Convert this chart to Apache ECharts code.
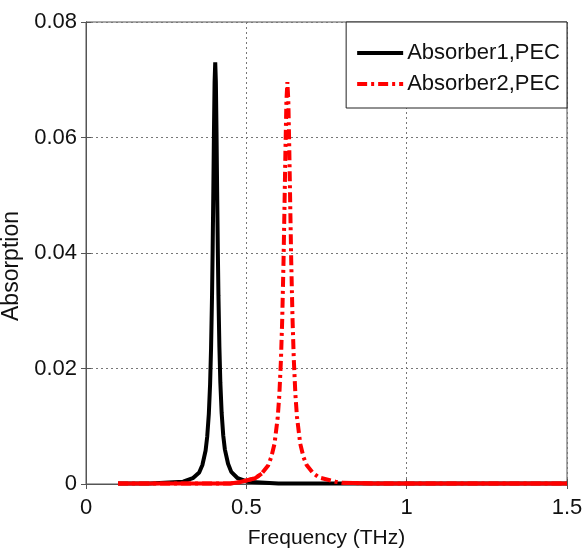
<!DOCTYPE html>
<html>
<head>
<meta charset="utf-8">
<script src="https://cdn.jsdelivr.net/npm/echarts@6/dist/echarts.min.js"></script>
<style>
html,body{margin:0;padding:0;background:#fff;}
#chart{width:583px;height:551px;}
</style>
</head>
<body>
<div id="chart"></div>
<script>
// Data
var seriesNames = ['Absorber1,PEC', 'Absorber2,PEC'];
var xTicks = [0, 0.5, 1, 1.5];
var yTicks = [0, 0.02, 0.04, 0.06, 0.08];

var freq1 = [0.1, 0.2, 0.303, 0.333, 0.353, 0.363, 0.373, 0.378, 0.383, 0.387, 0.390, 0.393, 0.395, 0.397, 0.399, 0.401, 0.403,
             0.405, 0.407, 0.409, 0.411, 0.413, 0.416, 0.419, 0.423, 0.428, 0.433, 0.443, 0.453, 0.473, 0.503, 0.6, 0.7, 0.8, 1.0, 1.2, 1.5];
var abs1  = [0.0001, 0.0001, 0.0004, 0.0010, 0.0020, 0.0033, 0.0058, 0.0082, 0.0121, 0.0173, 0.0235, 0.0325, 0.0406, 0.0504, 0.0610, 0.0696, 0.0730,
             0.0696, 0.0610, 0.0506, 0.0408, 0.0327, 0.0237, 0.0175, 0.0123, 0.0084, 0.0060, 0.0035, 0.0021, 0.0010, 0.0004, 0.0001, 0.0001, 0.0001, 0.0001, 0.0001, 0.0001];

var freq2 = [0.1, 0.3, 0.45, 0.478, 0.528, 0.548, 0.568, 0.578, 0.588, 0.598, 0.603, 0.608, 0.612, 0.616, 0.619, 0.622, 0.625, 0.628,
             0.631, 0.634, 0.637, 0.640, 0.644, 0.648, 0.653, 0.658, 0.668, 0.678, 0.688, 0.708, 0.728, 0.778, 0.8, 0.9, 1.1, 1.3, 1.5];
var abs2  = [0.0001, 0.0001, 0.0001, 0.0003, 0.0010, 0.0018, 0.0032, 0.0047, 0.0070, 0.0116, 0.0155, 0.0216, 0.0287, 0.0386, 0.0480, 0.0580, 0.0663, 0.0696,
             0.0663, 0.0580, 0.0480, 0.0386, 0.0287, 0.0216, 0.0155, 0.0116, 0.0070, 0.0047, 0.0033, 0.0019, 0.0011, 0.0004, 0.0002, 0.0001, 0.0001, 0.0001, 0.0001];

function pairs(xs, ys) { return xs.map(function (x, i) { return [x, ys[i]]; }); }
var data1 = pairs(freq1, abs1);
var data2 = pairs(freq2, abs2);
// red baseline portions (drawn solid in the reference)
var data2Base = data2.map(function (p) { return (p[0] <= 0.55 || p[0] >= 0.8) ? p : [p[0], null]; });

var FONT = "'Liberation Sans', Arial, Helvetica, sans-serif";
var axisCol = '#555';

var chart = echarts.init(document.getElementById('chart'), null, {renderer: 'canvas'});
chart.setOption({
  animation: false,
  backgroundColor: '#fff',
  grid: {left: 86, right: 16, top: 22, bottom: 67, containLabel: false, outerBoundsMode: 'none',
         show: true, borderColor: axisCol, borderWidth: 1, backgroundColor: 'transparent'},
  legend: {
    data: seriesNames,
    orient: 'vertical',
    right: 16, top: 22,
    backgroundColor: '#fff',
    borderColor: '#222', borderWidth: 1,
    padding: [18, 7, 11, 9],
    itemWidth: 46, itemHeight: 14, itemGap: 5,
    itemStyle: {opacity: 0},
    lineStyle: {width: 4},
    textStyle: {fontFamily: FONT, fontSize: 22, color: '#111', lineHeight: 26, padding: [0, 0, 0, -1]}
  },
  xAxis: [{
    type: 'value', min: 0, max: 1.5, interval: 0.5,
    name: 'Frequency (THz)', nameLocation: 'middle', nameGap: 44,
    nameTextStyle: {fontFamily: FONT, fontSize: 21, color: '#111'},
    axisLine: {show: true, onZero: false, lineStyle: {color: axisCol}},
    axisTick: {show: true, inside: true, length: 5, lineStyle: {color: axisCol}},
    axisLabel: {fontFamily: FONT, fontSize: 22, color: '#111', margin: 13},
    splitLine: {show: true, lineStyle: {color: '#777', type: [2, 3], width: 1}}
  }, {
    type: 'value', min: 0, max: 1.5, interval: 0.5, position: 'top',
    axisLine: {show: true, lineStyle: {color: axisCol}},
    axisTick: {show: true, inside: true, length: 5, lineStyle: {color: axisCol}},
    axisLabel: {show: false}, splitLine: {show: false}
  }],
  yAxis: [{
    type: 'value', min: 0, max: 0.08, interval: 0.02,
    name: 'Absorption', nameLocation: 'middle', nameGap: 57,
    nameTextStyle: {fontFamily: FONT, fontSize: 23, color: '#111', padding: [0, 26, 0, 0]},
    axisLine: {show: true, lineStyle: {color: axisCol}},
    axisTick: {show: true, inside: true, length: 5, lineStyle: {color: axisCol}},
    axisLabel: {fontFamily: FONT, fontSize: 22, color: '#111', margin: 9},
    splitLine: {show: true, lineStyle: {color: '#777', type: [2, 3], width: 1}}
  }, {
    type: 'value', min: 0, max: 0.08, interval: 0.02, position: 'right',
    axisLine: {show: true, lineStyle: {color: axisCol}},
    axisTick: {show: true, inside: true, length: 5, lineStyle: {color: axisCol}},
    axisLabel: {show: false}, splitLine: {show: false}
  }],
  series: [{
    name: seriesNames[0], type: 'line', data: data1, symbol: 'none', z: 3,
    lineStyle: {color: '#000', width: 4}, itemStyle: {color: '#000'}
  }, {
    name: seriesNames[1], type: 'line', data: data2, symbol: 'none', z: 4,
    lineStyle: {color: '#ff0000', width: 4, type: [10, 4, 3, 4]}, itemStyle: {color: '#ff0000'}
  }, {
    name: 'base2', type: 'line', data: data2Base, symbol: 'none', z: 5, connectNulls: false,
    lineStyle: {color: '#ff0000', width: 4}, itemStyle: {color: '#ff0000'}
  }]
});
</script>
</body>
</html>
